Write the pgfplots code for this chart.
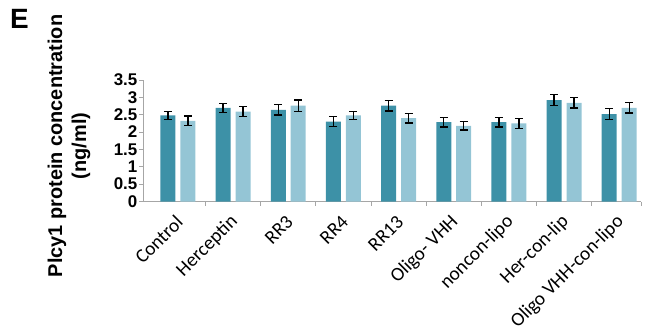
\documentclass[border=0pt]{standalone}
\usepackage{pgfplots}
\pgfplotsset{compat=1.18}
\usepackage{fontspec}
\setmainfont{Liberation Sans}
\newfontfamily\carlito{Carlito}
\definecolor{darkbar}{HTML}{3D91A7}
\definecolor{lightbar}{HTML}{94C5D5}
\definecolor{axgray}{HTML}{A6A6A6}
\begin{document}
\begin{tikzpicture}[x=1bp,y=1bp]
\useasboundingbox (0,0) rectangle (650,-335);
\node[anchor=north west, inner sep=0pt, font=\fontsize{28}{30}\selectfont\bfseries] at (10,-9) {E};
\node[rotate=90, align=center, inner sep=0pt, font=\fontsize{20}{24}\selectfont\bfseries] at (69,-146) {Plcy1 protein concentration\\(ng/ml)};
\begin{axis}[
  at={(143bp,-201.5bp)}, anchor=south west,
  scale only axis, width=498bp, height=121.5bp,
  xmin=-0.633, xmax=8.395, ymin=0, ymax=3.5,
  clip=false,
  axis x line=bottom, axis y line=left,
  axis line style={axgray, line width=0.8bp, -},
  tick style={axgray, line width=0.8bp},
  tick align=outside, major tick length=4bp,
  ytick={0,0.5,1,1.5,2,2.5,3,3.5},
  yticklabels={0,0.5,1,1.5,2,2.5,3,3.5},
  yticklabel style={font=\fontsize{17}{17}\selectfont\bfseries, text=black, inner sep=1.5bp},
  /pgf/number format/assume math mode=true,
  xtick={0.5,1.5,2.5,3.5,4.5,5.5,6.5,7.5,8.395},
  xticklabels={},
  extra x ticks={0,1,2,3,4,5,6,7,8},
  extra x tick labels={Control,Herceptin,RR3,RR4,RR13,Oligo- VHH,noncon-lipo,Her-con-lip,Oligo VHH-con-lipo},
  extra x tick style={major tick length=0pt,
    xticklabel style={xshift=4bp, yshift=-15bp, rotate=45, anchor=east, font=\carlito\fontsize{19.5}{19.5}\selectfont, text=black}},
]
\addplot[ybar, bar width=15bp, bar shift=0pt, fill=darkbar, draw=none,
  error bars/.cd, y dir=both, y explicit,
  error bar style={black, line width=1.3bp},
  error mark options={black, line width=1.3bp, mark size=4bp, rotate=90}]
coordinates {
(-0.181,2.48) +- (0,0.11)
(0.819,2.70) +- (0,0.13)
(1.819,2.64) +- (0,0.15)
(2.819,2.30) +- (0,0.14)
(3.819,2.76) +- (0,0.15)
(4.819,2.29) +- (0,0.14)
(5.819,2.29) +- (0,0.14)
(6.819,2.92) +- (0,0.16)
(7.819,2.52) +- (0,0.15)
};
\addplot[ybar, bar width=15bp, bar shift=0pt, fill=lightbar, draw=none,
  error bars/.cd, y dir=both, y explicit,
  error bar style={black, line width=1.3bp},
  error mark options={black, line width=1.3bp, mark size=4bp, rotate=90}]
coordinates {
(0.181,2.32) +- (0,0.14)
(1.181,2.59) +- (0,0.15)
(2.181,2.76) +- (0,0.16)
(3.181,2.48) +- (0,0.11)
(4.181,2.40) +- (0,0.14)
(5.181,2.18) +- (0,0.12)
(6.181,2.25) +- (0,0.14)
(7.181,2.84) +- (0,0.15)
(8.181,2.70) +- (0,0.15)
};
\end{axis}
\end{tikzpicture}
\end{document}
